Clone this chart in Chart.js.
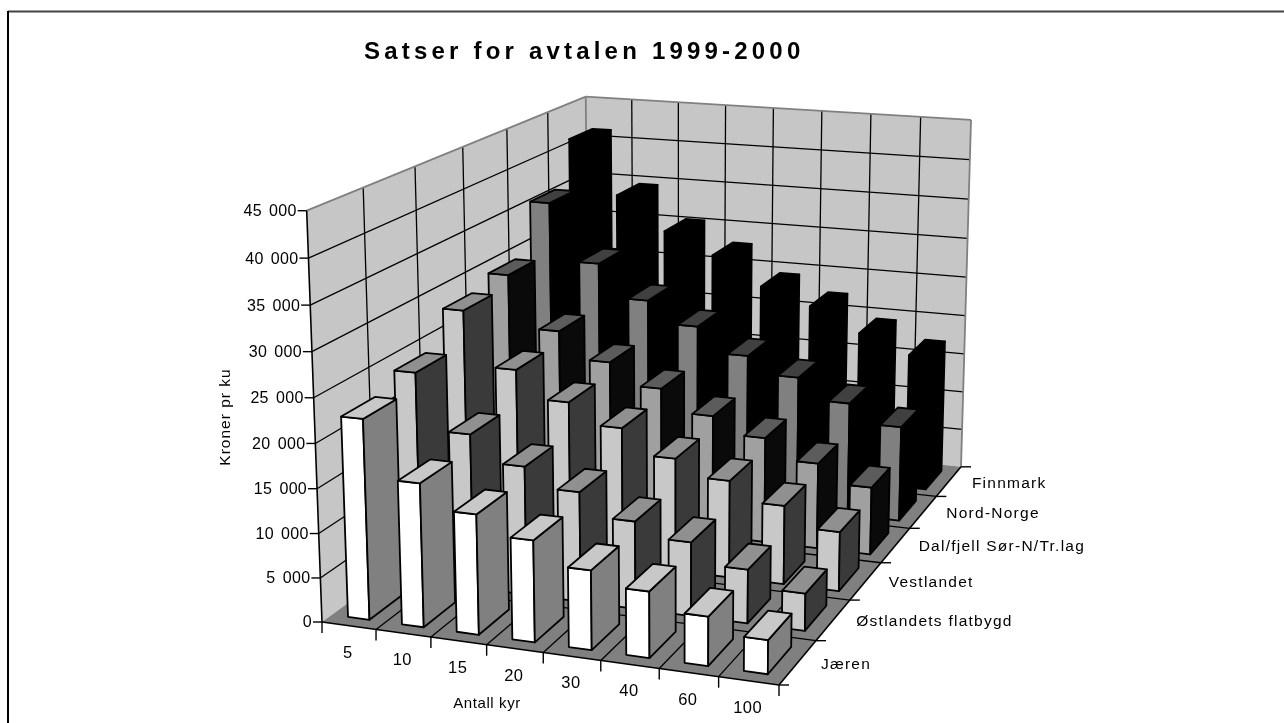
<!DOCTYPE html>
<html><head><meta charset="utf-8">
<style>html,body{margin:0;padding:0;background:#fff}#w{width:1284px;height:723px;position:relative}</style>
<script src="https://cdn.jsdelivr.net/npm/chart.js@4"></script>
</head><body><div id="w"><canvas id="c" width="1284" height="723"></canvas></div>
<script>
const categories = ["5","10","15","20","30","40","60","100"];
const rows = ["Jæren","Østlandets flatbygd","Vestlandet","Dal/fjell Sør-N/Tr.lag","Nord-Norge","Finnmark"];
const jaeren      = [22500,16100,13400,11300, 8800, 7300, 5400, 3700];
const ostlandet   = [24200,17800,14800,12600,10000, 8400, 6100, 4200];
const vestlandet  = [28200,21800,18600,16200,13300,11400, 9200, 6900];
const dalfjell    = [29500,23200,20000,17400,14700,12700,10300, 8100];
const nordnorge   = [35700,28600,24500,21800,18700,16600,14000,11700];
const finnmark    = [41300,34500,30300,27700,24200,22200,19300,17100];
const seriesValues = [jaeren,ostlandet,vestlandet,dalfjell,nordnorge,finnmark];
const faceColors = [
  {front:"#ffffff",side:"#808080",top:"#c8c8c8"},
  {front:"#c8c8c8",side:"#3a3a3a",top:"#909090"},
  {front:"#c8c8c8",side:"#3a3a3a",top:"#909090"},
  {front:"#a0a0a0",side:"#0a0a0a",top:"#5c5c5c"},
  {front:"#808080",side:"#000000",top:"#404040"},
  {front:"#000000",side:"#000000",top:"#000000"}
];
const valueMax = 45000, valueStep = 5000;
const xTitle = "Antall kyr", yTitle = "Kroner pr ku", titleText = "Satser for avtalen 1999-2000";

/* View: the perspective of the 3-D box, fixed by its visible corners */
const VIEW = {O:[322,622],U:[779,685],V:[588.8,427.4],W:[306.7,210.7],UV:[961.7,466],VW:[585.7,96.7],UVW:[971.7,120]};
function isect(a,b,c,d){
  const dx1=b[0]-a[0],dy1=b[1]-a[1],dx2=d[0]-c[0],dy2=d[1]-c[1];
  const den=dx1*dy2-dy1*dx2,t=((c[0]-a[0])*dy2-(c[1]-a[1])*dx2)/den;return [a[0]+t*dx1,a[1]+t*dy1];}
const VPu=isect(VIEW.O,VIEW.U,VIEW.VW,VIEW.UVW), VPv=isect(VIEW.U,VIEW.UV,VIEW.W,VIEW.VW), VPw=isect(VIEW.O,VIEW.W,VIEW.UV,VIEW.UVW);
const gain=(P,O,Vp)=>(P[0]-O[0])/(Vp[0]-P[0]);
const gu=gain(VIEW.U,VIEW.O,VPu), gv=gain(VIEW.V,VIEW.O,VPv), gw=(VIEW.W[1]-VIEW.O[1])/(VPw[1]-VIEW.W[1]);
function P3(u,v,w){const d=gu*u+gv*v+gw*w+1;
  return [(gu*VPu[0]*u+gv*VPv[0]*v+gw*VPw[0]*w+VIEW.O[0])/d,(gu*VPu[1]*u+gv*VPv[1]*v+gw*VPw[1]*w+VIEW.O[1])/d];}
function poly(ctx,pts,fill,stroke,lw){ctx.beginPath();pts.forEach((p,i)=>i?ctx.lineTo(p[0],p[1]):ctx.moveTo(p[0],p[1]));ctx.closePath();
  if(fill){ctx.fillStyle=fill;ctx.fill();} if(stroke){ctx.strokeStyle=stroke;ctx.lineWidth=lw;ctx.lineJoin="round";ctx.stroke();}}
function seg(ctx,a,b,c,lw){ctx.beginPath();ctx.moveTo(a[0],a[1]);ctx.lineTo(b[0],b[1]);ctx.strokeStyle=c;ctx.lineWidth=lw;ctx.stroke();}

const BAR_U=[0.30,0.70], BAR_V=[0.18,0.80];
class Bar3D extends Chart.BarController{
  draw(){
    const chart=this.chart, ctx=chart.ctx, xs=chart.scales.x, ys=chart.scales.y, zs=chart.scales.z;
    const meta=this._cachedMeta, j=this.index, col=this.getDataset().faces;
    const cu=1/xs.ticks.length, cv=1/zs.ticks.length;
    const vc=(zs.getPixelForValue(j)-zs.left)/zs.width;
    const v0=vc+(BAR_V[0]-.5)*cv, v1=vc+(BAR_V[1]-.5)*cv;
    for(let i=0;i<meta.data.length;i++){
      const uc=(xs.getPixelForValue(i)-xs.left)/xs.width;
      const u0=uc+(BAR_U[0]-.5)*cu,u1=uc+(BAR_U[1]-.5)*cu;
      const w=(ys.bottom-ys.getPixelForValue(this.getParsed(i).y))/ys.height;
      poly(ctx,[P3(u0,v0,0),P3(u1,v0,0),P3(u1,v0,w),P3(u0,v0,w)],col.front,"#000",1.8);
      poly(ctx,[P3(u1,v0,0),P3(u1,v1,0),P3(u1,v1,w),P3(u1,v0,w)],col.side,"#000",1.8);
      poly(ctx,[P3(u0,v0,w),P3(u1,v0,w),P3(u1,v1,w),P3(u0,v1,w)],col.top,"#000",1.8);
    }
  }
}
Bar3D.id="bar3d";
Bar3D.defaults=Object.assign({},Chart.BarController.defaults);
Chart.register(Bar3D);

const box3d={id:"box3d",
  beforeDatasetsDraw(chart){
    const ctx=chart.ctx, ys=chart.scales.y, xs=chart.scales.x, zs=chart.scales.z;
    const nx=xs.ticks.length,nz=zs.ticks.length;
    ctx.save();
    ctx.fillStyle="#fff";ctx.fillRect(0,0,1284,723);
    // frame
    seg(ctx,[8,11.5],[1284,11.5],"#444",2); seg(ctx,[8,11],[8,723],"#000",2);
    // walls + floor
    poly(ctx,[P3(0,0,0),P3(0,1,0),P3(0,1,1),P3(0,0,1)],"#c6c6c6");
    poly(ctx,[P3(0,1,0),P3(1,1,0),P3(1,1,1),P3(0,1,1)],"#c6c6c6");
    poly(ctx,[P3(0,0,0),P3(1,0,0),P3(1,1,0),P3(0,1,0)],"#808080");
    // grid
    for(const t of ys.ticks){const w=(ys.bottom-ys.getPixelForValue(t.value))/ys.height; if(w<=0||w>=1)continue;
      seg(ctx,P3(0,0,w),P3(0,1,w),"#000",1.3); seg(ctx,P3(0,1,w),P3(1,1,w),"#000",1.3);}
    for(let j=1;j<nz;j++){seg(ctx,P3(0,j/nz,0),P3(0,j/nz,1),"#000",1.3); seg(ctx,P3(0,j/nz,0),P3(1,j/nz,0),"#000",1.3);}
    for(let i=1;i<nx;i++){seg(ctx,P3(i/nx,1,0),P3(i/nx,1,1),"#000",1.3); seg(ctx,P3(i/nx,0,0),P3(i/nx,1,0),"#000",1.3);}
    // wall edges
    const g="#808080";
    seg(ctx,P3(0,0,1),P3(0,1,1),g,1.8);seg(ctx,P3(0,1,1),P3(1,1,1),g,1.8);seg(ctx,P3(1,1,1),P3(1,1,0),g,1.8);seg(ctx,P3(0,1,0),P3(0,1,1),g,1.8);
    seg(ctx,P3(0,0,0),P3(0,0,1),"#000",1.6);seg(ctx,P3(0,0,0),P3(1,0,0),"#000",1.6);seg(ctx,P3(1,0,0),P3(1,1,0),"#000",1.6);
    // ticks + labels
    ctx.fillStyle="#000";ctx.textBaseline="middle";
    ctx.font="16px 'Liberation Sans'";ctx.letterSpacing="0.3px";ctx.wordSpacing="2.5px";ctx.textAlign="right";
    for(const t of ys.ticks){const w=(ys.bottom-ys.getPixelForValue(t.value))/ys.height,p=P3(0,0,w);
      seg(ctx,[p[0]-9,p[1]],p,"#000",1.4); ctx.fillStyle="#000"; ctx.fillText(t.label,p[0]-10,p[1]+1);}
    ctx.wordSpacing="0px";ctx.textAlign="center";ctx.font="16.5px 'Liberation Sans'";ctx.letterSpacing="0.5px";
    for(let i=0;i<=nx;i++){const p=P3(i/nx,0,0);seg(ctx,p,[p[0],p[1]+11],"#000",1.4);}
    for(let i=0;i<nx;i++){const p=P3((i+.5)/nx,0,0);ctx.fillText(xs.getLabelForValue(i),p[0]-1,p[1]+27.5);}
    ctx.textAlign="left";ctx.letterSpacing="1.25px";ctx.font="15.5px 'Liberation Sans'";
    for(let j=0;j<=nz;j++){const p=P3(1,j/nz,0);seg(ctx,p,[p[0]+10,p[1]],"#000",1.4);}
    for(let j=0;j<nz;j++){const p=P3(1,(j+.5)/nz,0);ctx.fillText(zs.getLabelForValue(j),p[0]+23,p[1]+2);}
    ctx.textAlign="center";ctx.letterSpacing="0.6px";ctx.font="15px 'Liberation Sans'";
    ctx.fillText(xTitle,487,704);
    ctx.letterSpacing="1px";ctx.font="15.5px 'Liberation Sans'";
    ctx.save();ctx.translate(226,417);ctx.rotate(-Math.PI/2);ctx.fillText(yTitle,0,0);ctx.restore();
    ctx.font="bold 24px 'Liberation Sans'";ctx.letterSpacing="4.2px";ctx.textAlign="left";
    ctx.fillText(titleText,364,52);
    ctx.restore();
  }
};

new Chart(document.getElementById("c"),{
  type:"bar3d",
  data:{labels:categories,datasets:rows.map((r,j)=>({label:r,data:seriesValues[j],faces:faceColors[j]}))},
  options:{responsive:false,animation:false,devicePixelRatio:1,
    layout:{padding:0},
    plugins:{legend:{display:false},tooltip:{enabled:false}},
    scales:{
      x:{type:"category",display:false,offset:true},
      z:{type:"category",display:false,labels:rows,offset:true,axis:"x",position:"top"},
      y:{type:"linear",display:false,min:0,max:valueMax,ticks:{stepSize:valueStep,callback:v=>String(v).replace(/(\d)(\d{3})$/,"$1 $2")}}
    }
  },
  plugins:[box3d]
});
</script></body></html>
